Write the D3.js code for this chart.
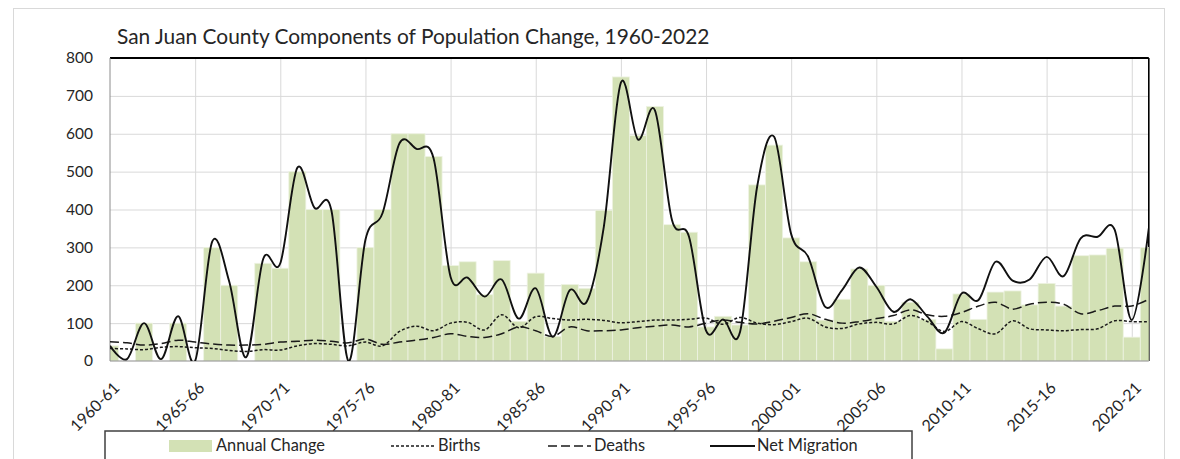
<!DOCTYPE html>
<html><head><meta charset="utf-8">
<script src="https://cdn.jsdelivr.net/npm/d3@7"></script>
<style>
body{margin:0;background:#fff}
svg{display:block}
text{font-family:Lato,"Open Sans",sans-serif;fill:#262626}
</style>
</head><body>
<svg id="c" width="1180" height="459"></svg>
<script>
const categories = ["1960-61","1961-62","1962-63","1963-64","1964-65","1965-66","1966-67","1967-68","1968-69","1969-70",
"1970-71","1971-72","1972-73","1973-74","1974-75","1975-76","1976-77","1977-78","1978-79","1979-80",
"1980-81","1981-82","1982-83","1983-84","1984-85","1985-86","1986-87","1987-88","1988-89","1989-90",
"1990-91","1991-92","1992-93","1993-94","1994-95","1995-96","1996-97","1997-98","1998-99","1999-00",
"2000-01","2001-02","2002-03","2003-04","2004-05","2005-06","2006-07","2007-08","2008-09","2009-10",
"2010-11","2011-12","2012-13","2013-14","2014-15","2015-16","2016-17","2017-18","2018-19","2019-20",
"2020-21","2021-22"];
const tickLabels = ["1960-61","1965-66","1970-71","1975-76","1980-81","1985-86","1990-91","1995-96","2000-01","2005-06","2010-11","2015-16","2020-21"];
const yTicks = [0,100,200,300,400,500,600,700,800];

const annualChange = [40,0,100,0,100,0,300,200,0,258,245,500,400,400,0,300,400,600,600,540,252,262,175,265,105,232,65,202,192,398,750,595,672,360,340,90,118,95,465,570,325,262,108,163,243,200,105,155,110,32,177,110,182,185,148,205,145,278,280,298,63,300];
const births = [33,32,30,36,38,35,33,28,25,30,29,40,46,44,40,50,40,78,92,80,100,102,82,122,88,117,112,108,110,107,101,104,108,108,110,113,97,115,100,96,104,113,90,86,98,102,98,120,104,78,104,85,72,106,85,82,80,83,85,106,104,104];
const deaths = [51,48,42,46,55,50,45,42,42,44,50,52,55,52,48,58,44,50,55,62,72,65,62,72,90,80,65,90,80,80,82,88,92,95,90,100,108,102,98,105,115,125,110,100,104,112,120,135,122,118,128,145,155,137,150,155,150,125,133,145,145,163];
const netMigration = [40,5,100,5,118,0,315,210,10,270,258,510,405,398,0,320,390,575,560,535,222,220,170,215,112,192,64,187,157,355,735,585,662,372,328,80,110,77,460,592,335,275,143,188,247,196,130,163,117,75,178,161,262,212,215,275,224,324,328,346,108,350];

const title = "San Juan County Components of Population Change, 1960-2022";
const legendLabels = ["Annual Change","Births","Deaths","Net Migration"];

const L = 110, R = 1148.8, T = 58, B = 361;
const svg = d3.select("#c");
const x = d3.scalePoint().domain(categories).range([L, R]);
const step = x.step();
const y = d3.scaleLinear().domain([0, 800]).range([B, T]);
const barColor = "#d3e1b5";

// outer chart frame
svg.append("rect").attr("x",13.5).attr("y",8.5).attr("width",1151).attr("height",480)
  .attr("fill","none").attr("stroke","#d9d9d9");

// title (fit to measured width)
const tt = svg.append("text").attr("x",117).attr("y",44).attr("font-size",21).attr("fill","#333").text(title);
{ const w = tt.node().getComputedTextLength(); tt.attr("font-size", 21*593/w); }

// clip
svg.append("clipPath").attr("id","pc").append("rect").attr("x",L).attr("y",T-1).attr("width",R-L).attr("height",B-T+1);

// horizontal gridlines
svg.append("g").attr("transform",`translate(${L},0)`)
  .call(d3.axisLeft(y).tickValues(yTicks.slice(1)).tickSize(-(R-L)).tickFormat(""))
  .call(g=>g.select(".domain").remove())
  .call(g=>g.selectAll("line").attr("stroke","#d9d9d9").attr("stroke-width",1));
// vertical gridlines
svg.append("g").attr("transform",`translate(0,${B})`)
  .call(d3.axisBottom(x).tickValues(tickLabels.slice(1)).tickSize(-(B-T)).tickFormat(""))
  .call(g=>g.select(".domain").remove())
  .call(g=>g.selectAll("line").attr("stroke","#d9d9d9").attr("stroke-width",1));

// plot border (top & right black)
svg.append("line").attr("x1",L).attr("x2",R).attr("y1",T).attr("y2",T).attr("stroke","#000").attr("stroke-width",2);
svg.append("line").attr("x1",R).attr("x2",R).attr("y1",T).attr("y2",B).attr("stroke","#000").attr("stroke-width",1.6);

// bars
svg.append("g").attr("clip-path","url(#pc)").selectAll("rect").data(annualChange).join("rect")
  .attr("x",(d,i)=>x(categories[i])-step/2).attr("width",step)
  .attr("y",d=>y(d)).attr("height",d=>B-y(d))
  .attr("fill",barColor).attr("stroke","#eef3e3").attr("stroke-width",0.8);

// axis lines
svg.append("line").attr("x1",L).attr("x2",L).attr("y1",T).attr("y2",B).attr("stroke","#8c8c8c").attr("stroke-width",1);
svg.append("line").attr("x1",L).attr("x2",R).attr("y1",B).attr("y2",B).attr("stroke","#8c8c8c").attr("stroke-width",1.2);

// lines
const curve = d3.curveCatmullRom.alpha(0);
const lineGen = d3.line().x((d,i)=>x(categories[i])).y(d=>y(d)).curve(curve);
const lg = svg.append("g").attr("clip-path","url(#pc)").attr("fill","none");
lg.append("path").attr("d",lineGen(births)).attr("stroke","#1a1a1a").attr("stroke-width",1.5).attr("stroke-dasharray","3,2");
lg.append("path").attr("d",lineGen(deaths)).attr("stroke","#1a1a1a").attr("stroke-width",1.5).attr("stroke-dasharray","9,4");
lg.append("path").attr("d",lineGen(netMigration)).attr("stroke","#111").attr("stroke-width",1.9);

// y axis labels
svg.append("g").attr("transform",`translate(${L},0)`)
  .call(d3.axisLeft(y).tickValues(yTicks).tickSize(0).tickPadding(17))
  .call(g=>g.select(".domain").remove())
  .call(g=>g.selectAll("text").attr("font-size",15.5).attr("font-family",'Lato,"Open Sans",sans-serif').attr("fill","#262626"));

// legend box (under the labels)
const lgd = svg.append("g");
lgd.append("rect").attr("x",105).attr("y",431).attr("width",807).attr("height",45)
  .attr("fill","#fff").attr("stroke","#404040").attr("stroke-width",1.5);

// x axis labels
svg.append("g").attr("transform",`translate(0,${B})`)
  .call(d3.axisBottom(x).tickValues(tickLabels).tickSize(0))
  .call(g=>g.select(".domain").remove())
  .call(g=>g.selectAll("text").attr("x",0).attr("y",0).attr("dy",0)
     .attr("text-anchor","end").attr("transform","translate(10,28) rotate(-45)")
     .attr("font-size",16).attr("font-family",'Lato,"Open Sans",sans-serif').attr("fill","#262626"));

// legend items
lgd.append("rect").attr("x",169).attr("y",440).attr("width",43).attr("height",12).attr("fill",barColor);
const lt = lgd.append("text").attr("x",216).attr("y",451).attr("font-size",16).text(legendLabels[0]);
let fs = 16*109/lt.node().getComputedTextLength(); lt.attr("font-size",fs);
lgd.append("line").attr("x1",391).attr("x2",434).attr("y1",446).attr("y2",446).attr("stroke","#1a1a1a").attr("stroke-width",1.5).attr("stroke-dasharray","3,2");
lgd.append("text").attr("x",438).attr("y",451).attr("font-size",fs).text(legendLabels[1]);
lgd.append("line").attr("x1",548).attr("x2",591).attr("y1",446).attr("y2",446).attr("stroke","#1a1a1a").attr("stroke-width",1.5).attr("stroke-dasharray","9,4");
lgd.append("text").attr("x",594).attr("y",451).attr("font-size",fs).text(legendLabels[2]);
lgd.append("line").attr("x1",710).attr("x2",755).attr("y1",446).attr("y2",446).attr("stroke","#111").attr("stroke-width",1.8);
lgd.append("text").attr("x",757).attr("y",451).attr("font-size",fs).text(legendLabels[3]);
</script>
</body></html>
